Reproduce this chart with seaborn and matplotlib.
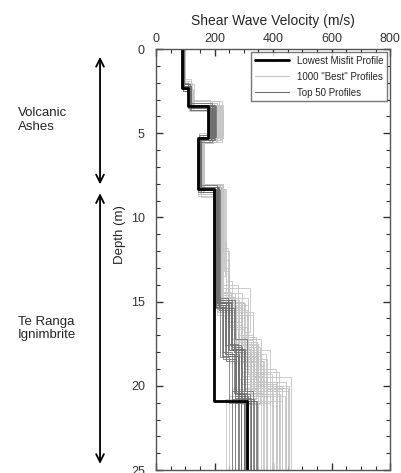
"""Shear wave velocity profiles vs depth"""
import matplotlib
matplotlib.use("Agg")
import matplotlib.pyplot as plt
from matplotlib.lines import Line2D
from matplotlib.ticker import MultipleLocator
import pandas as pd
import seaborn as sns

# layer boundaries (m) and layer velocities (m/s) for each profile
best_bounds = [0, 2.3, 3.4, 5.3, 8.3, 20.9, 25]
best_vels = [90, 108, 178, 142, 198, 310]

gray_bounds = [
    [0, 2.1, 3.3, 5.4, 8.3, 15.0, 17.5, 20.0, 25],
    [0, 2.4, 3.5, 5.2, 8.1, 14.5, 17.8, 20.5, 25],
    [0, 1.9, 3.1, 5.6, 8.4, 15.4, 18.2, 19.8, 25],
    [0, 2.2, 3.6, 5.3, 8.0, 12.0, 15.8, 19.5, 25],
    [0, 2.0, 3.4, 5.5, 8.6, 13.0, 16.5, 20.3, 25],
    [0, 2.5, 3.2, 5.1, 8.2, 15.2, 18.5, 21.0, 25],
    [0, 2.3, 3.3, 5.3, 8.5, 14.8, 17.0, 19.2, 25],
    [0, 2.1, 3.5, 5.4, 8.3, 15.5, 18.0, 20.8, 25],
    [0, 2.2, 3.4, 5.2, 8.8, 11.5, 16.0, 19.0, 25],
    [0, 2.0, 3.0, 5.5, 8.2, 15.0, 17.6, 20.2, 25],
    [0, 2.4, 3.7, 5.3, 8.4, 15.3, 18.4, 20.0, 25],
    [0, 2.3, 3.4, 5.0, 8.1, 14.6, 17.2, 20.6, 25],
    [0, 2.1, 3.2, 5.4, 8.3, 13.5, 15.5, 19.6, 25],
    [0, 2.2, 3.5, 5.6, 8.0, 15.1, 18.8, 20.4, 25],
    [0, 1.8, 3.3, 5.2, 8.7, 15.0, 17.3, 20.9, 25],
    [0, 2.5, 3.6, 5.4, 8.3, 14.9, 18.1, 19.9, 25],
    [0, 2.2, 3.1, 5.3, 8.2, 15.6, 17.9, 20.5, 25],
    [0, 2.0, 3.4, 5.5, 8.4, 14.2, 16.8, 20.1, 25],
    [0, 2.3, 3.5, 5.1, 8.3, 15.2, 18.3, 20.7, 25],
    [0, 2.1, 3.3, 5.3, 8.6, 12.5, 16.2, 19.4, 25],
    [0, 2.4, 3.4, 5.4, 8.1, 15.0, 17.7, 20.3, 25],
    [0, 2.2, 3.2, 5.2, 8.5, 14.7, 18.0, 21.1, 25],
    [0, 2.0, 3.6, 5.5, 8.2, 15.3, 17.4, 20.0, 25],
    [0, 2.3, 3.3, 5.3, 8.3, 15.1, 18.6, 20.6, 25],
    [0, 2.2, 3.3, 5.4, 8.2, 14.0, 17.0, 19.5, 25],
    [0, 2.0, 3.5, 5.2, 8.4, 15.8, 18.4, 20.2, 25],
    [0, 2.3, 3.4, 5.5, 8.3, 13.8, 16.6, 19.8, 25],
    [0, 2.5, 3.2, 5.3, 8.1, 15.0, 17.4, 20.6, 25],
    [0, 2.1, 3.6, 5.1, 8.5, 14.5, 17.9, 21.0, 25],
    [0, 2.4, 3.3, 5.4, 8.2, 15.4, 18.2, 20.1, 25],
    [0, 2.2, 3.1, 5.2, 8.3, 11.8, 15.2, 19.3, 25],
    [0, 1.9, 3.4, 5.3, 8.6, 15.1, 17.7, 20.4, 25],
    [0, 2.3, 3.5, 5.6, 8.0, 14.8, 18.0, 20.8, 25],
    [0, 2.2, 3.3, 5.3, 8.4, 15.6, 18.7, 20.5, 25],
    [0, 2.0, 3.2, 5.4, 8.2, 15.2, 17.1, 19.7, 25],
    [0, 2.4, 3.6, 5.2, 8.3, 14.4, 17.6, 20.9, 25],
    [0, 2.1, 3.4, 5.5, 8.5, 15.0, 18.3, 20.0, 25],
    [0, 2.3, 3.3, 5.1, 8.1, 15.3, 17.8, 20.6, 25],
    [0, 2.2, 3.5, 5.3, 8.4, 13.2, 16.4, 19.9, 25],
    [0, 2.0, 3.3, 5.4, 8.2, 15.5, 18.5, 20.3, 25],
]
gray_vels = [
    [95, 112, 200, 152, 212, 290, 350, 430],
    [90, 118, 215, 148, 220, 270, 320, 400],
    [98, 108, 190, 156, 205, 300, 360, 445],
    [93, 120, 225, 160, 230, 250, 330, 380],
    [97, 115, 180, 145, 200, 245, 310, 455],
    [91, 125, 210, 150, 215, 275, 370, 350],
    [94, 110, 230, 165, 225, 315, 290, 420],
    [96, 130, 195, 140, 210, 285, 340, 300],
    [92, 114, 205, 155, 195, 240, 300, 410],
    [99, 122, 185, 150, 218, 265, 345, 260],
    [90, 112, 220, 158, 222, 295, 320, 380],
    [95, 118, 200, 146, 214, 255, 360, 440],
    [93, 108, 210, 152, 235, 225, 280, 350],
    [97, 116, 195, 162, 208, 305, 365, 310],
    [94, 120, 215, 144, 200, 270, 330, 430],
    [91, 126, 190, 154, 226, 285, 375, 400],
    [96, 111, 225, 150, 212, 260, 310, 270],
    [98, 117, 205, 157, 217, 320, 300, 450],
    [92, 113, 200, 148, 209, 280, 350, 335],
    [95, 119, 185, 160, 205, 250, 290, 365],
    [93, 124, 218, 153, 228, 300, 335, 420],
    [97, 109, 198, 147, 215, 265, 355, 290],
    [94, 115, 208, 150, 211, 275, 325, 390],
    [90, 121, 212, 155, 219, 290, 345, 250],
    [94, 117, 222, 149, 224, 280, 330, 460],
    [96, 110, 192, 155, 207, 310, 380, 430],
    [91, 123, 204, 143, 240, 260, 300, 415],
    [93, 128, 188, 158, 213, 285, 345, 370],
    [97, 113, 228, 151, 206, 295, 390, 310],
    [90, 116, 197, 146, 221, 275, 335, 445],
    [95, 109, 214, 163, 199, 245, 315, 395],
    [98, 121, 201, 149, 216, 300, 355, 280],
    [92, 114, 186, 154, 227, 265, 320, 240],
    [94, 119, 219, 148, 210, 330, 360, 425],
    [96, 112, 207, 157, 223, 290, 340, 375],
    [91, 127, 193, 145, 214, 255, 310, 345],
    [95, 111, 226, 152, 204, 285, 350, 455],
    [93, 118, 199, 159, 218, 270, 325, 300],
    [97, 115, 210, 147, 232, 250, 295, 410],
    [92, 120, 203, 151, 212, 310, 365, 360],
]

top_bounds = [
    [0, 2.2, 3.4, 5.3, 8.3, 15.2, 18.0, 20.8, 25],
    [0, 2.4, 3.5, 5.2, 8.2, 15.0, 17.5, 20.5, 25],
    [0, 2.1, 3.3, 5.4, 8.4, 14.8, 18.3, 21.0, 25],
    [0, 2.3, 3.6, 5.3, 8.3, 15.5, 17.8, 20.3, 25],
    [0, 2.2, 3.2, 5.5, 8.1, 15.1, 18.5, 20.6, 25],
    [0, 2.5, 3.4, 5.2, 8.5, 14.9, 17.2, 20.9, 25],
    [0, 2.0, 3.5, 5.4, 8.2, 15.3, 18.1, 20.4, 25],
    [0, 2.3, 3.3, 5.3, 8.4, 15.0, 17.6, 21.0, 25],
    [0, 2.2, 3.4, 5.1, 8.3, 15.4, 18.2, 20.7, 25],
    [0, 2.4, 3.5, 5.3, 8.2, 15.2, 17.9, 20.5, 25],
    [0, 2.3, 3.4, 5.2, 8.3, 15.1, 18.1, 20.6, 25],
    [0, 2.2, 3.5, 5.4, 8.2, 14.9, 17.7, 20.8, 25],
    [0, 2.4, 3.3, 5.3, 8.4, 15.3, 18.4, 20.4, 25],
    [0, 2.1, 3.4, 5.2, 8.3, 15.0, 17.9, 20.9, 25],
    [0, 2.3, 3.6, 5.4, 8.2, 15.4, 18.0, 20.5, 25],
    [0, 2.2, 3.3, 5.3, 8.5, 15.2, 17.6, 20.7, 25],
    [0, 2.5, 3.4, 5.3, 8.3, 14.8, 18.2, 21.0, 25],
    [0, 2.2, 3.5, 5.2, 8.2, 15.1, 17.8, 20.3, 25],
]
top_vels = [
    [92, 112, 185, 145, 205, 230, 260, 300],
    [95, 118, 195, 150, 210, 250, 280, 320],
    [90, 110, 200, 148, 200, 220, 250, 280],
    [94, 115, 180, 152, 215, 260, 300, 330],
    [93, 120, 190, 146, 208, 240, 270, 290],
    [91, 114, 205, 155, 212, 270, 310, 340],
    [96, 111, 188, 144, 202, 235, 265, 310],
    [92, 116, 198, 150, 218, 255, 290, 270],
    [95, 113, 182, 147, 206, 225, 285, 325],
    [93, 119, 193, 153, 211, 245, 275, 300],
    [94, 114, 190, 149, 207, 240, 285, 315],
    [92, 117, 197, 146, 213, 260, 295, 335],
    [95, 112, 185, 152, 204, 230, 275, 290],
    [91, 115, 202, 148, 209, 250, 300, 345],
    [93, 118, 187, 151, 214, 265, 290, 305],
    [96, 113, 194, 145, 203, 235, 270, 285],
    [92, 116, 181, 154, 210, 245, 280, 325],
    [94, 121, 199, 149, 208, 255, 305, 260],
]


def steps(bounds_list, vels_list):
    rows = []
    for i, (b, v) in enumerate(zip(bounds_list, vels_list)):
        for k, vel in enumerate(v):
            rows.append((i, vel, b[k]))
            rows.append((i, vel, b[k + 1]))
    return pd.DataFrame(rows, columns=["profile", "velocity", "depth"])


gray_df = steps(gray_bounds, gray_vels)
top_df = steps(top_bounds, top_vels)
best_df = steps([best_bounds], [best_vels])

sns.set_style("ticks")
plt.rcParams["font.family"] = ["Liberation Sans", "DejaVu Sans"]

fig = plt.figure(figsize=(4.01, 4.73), dpi=100)
ax = fig.add_axes([0.389, 0.0063, 0.584, 0.890])

kw = dict(x="velocity", y="depth", units="profile", estimator=None, sort=False, ax=ax)
sns.lineplot(data=gray_df, color="#c4c4c4", linewidth=0.6, **kw)
sns.lineplot(data=top_df, color="#6e6e6e", linewidth=0.7, alpha=0.8, **kw)
sns.lineplot(data=best_df, color="black", linewidth=2.0, **kw)

ax.set_xlim(0, 800)
ax.set_ylim(25, 0)
ax.xaxis.set_major_locator(MultipleLocator(200))
ax.xaxis.set_minor_locator(MultipleLocator(50))
ax.yaxis.set_major_locator(MultipleLocator(5))
ax.yaxis.set_minor_locator(MultipleLocator(1))
ax.tick_params(which="both", direction="in", top=True, bottom=True, left=True, right=True,
               labeltop=True, labelbottom=False, colors="#333333", labelsize=9)
ax.tick_params(which="major", length=5, width=1)
ax.tick_params(which="minor", length=3, width=0.8)
ax.tick_params(axis="y", pad=8)
ax.tick_params(axis="x", pad=3)
for s in ax.spines.values():
    s.set_color("#555555")
    s.set_linewidth(1)

ax.xaxis.set_label_position("top")
ax.set_xlabel("Shear Wave Velocity (m/s)", fontsize=10, labelpad=6)
ax.set_ylabel("Depth (m)", fontsize=9.5, labelpad=4)
ax.yaxis.set_label_coords(-0.13, 0.56)

handles = [
    Line2D([], [], color="black", linewidth=2.0),
    Line2D([], [], color="#c4c4c4", linewidth=0.8),
    Line2D([], [], color="#6e6e6e", linewidth=0.8),
]
ax.legend(handles, ["Lowest Misfit Profile", '1000 "Best" Profiles', "Top 50 Profiles"],
          loc="upper right", fontsize=7, frameon=True, fancybox=False, edgecolor="#555555",
          handlelength=3.5, borderaxespad=0.3, labelspacing=0.6)

# geology annotations
arrow = dict(arrowstyle="<->", color="black", lw=1.3, mutation_scale=14)
ax.annotate("", xy=(-0.239, 0.3), xytext=(-0.239, 8.2), xycoords=("axes fraction", "data"),
            arrowprops=arrow, annotation_clip=False)
ax.annotate("", xy=(-0.239, 8.4), xytext=(-0.239, 24.8), xycoords=("axes fraction", "data"),
            arrowprops=arrow, annotation_clip=False)
ax.text(-0.59, 4.2, "Volcanic\nAshes", transform=ax.get_yaxis_transform(),
        fontsize=9.5, va="center", ha="left")
ax.text(-0.59, 16.6, "Te Ranga\nIgnimbrite", transform=ax.get_yaxis_transform(),
        fontsize=9.5, va="center", ha="left")

fig.savefig("out.png", dpi=100)
